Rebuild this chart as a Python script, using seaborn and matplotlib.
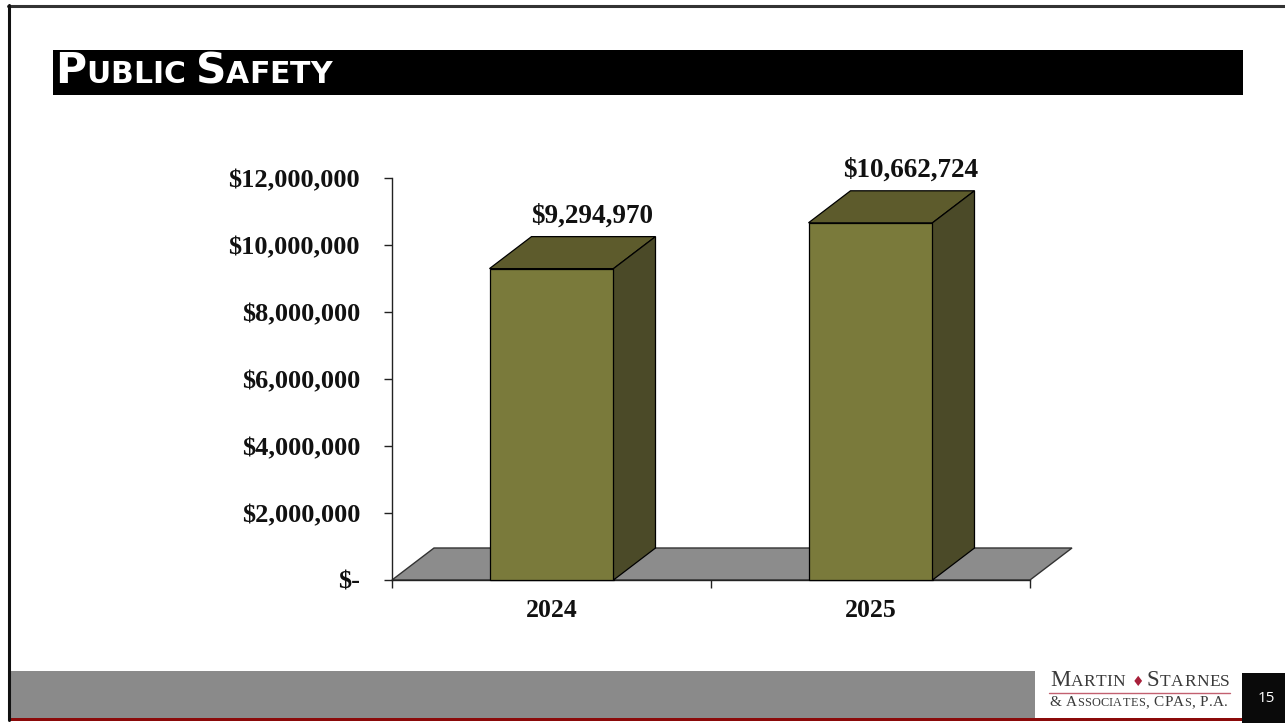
import matplotlib
matplotlib.use("Agg")
import matplotlib.pyplot as plt
from matplotlib.patches import Polygon, Rectangle
from matplotlib.lines import Line2D
import seaborn as sns
import pandas as pd

# ---- data ----
years = ["2024", "2025"]
spending = [9294970, 10662724]
value_labels = ["$9,294,970", "$10,662,724"]
y_ticks = [0, 2000000, 4000000, 6000000, 8000000, 10000000, 12000000]
y_tick_labels = ["$-", "$2,000,000", "$4,000,000", "$6,000,000",
                 "$8,000,000", "$10,000,000", "$12,000,000"]
title_parts = [("P", 30.5), ("UBLIC ", 21.5), ("S", 30.5), ("AFETY", 21.5)]
page_number = "15"

W, H = 1285, 723
sns.set_theme(style="white")
plt.rcParams["font.family"] = ["Liberation Serif", "DejaVu Serif"]

fig = plt.figure(figsize=(W / 100, H / 100), dpi=100)
fig.patch.set_facecolor("white")


def fx(px):
    return px / W


def fy(py):
    return 1 - py / H


# ---- slide frame, title bar and footer ----
fig.add_artist(Line2D([fx(8), 1], [fy(5.5), fy(5.5)], color="#333333", lw=2.2))
fig.add_artist(Line2D([fx(9), fx(9)], [fy(5), fy(720)], color="#111111", lw=2.2))
fig.add_artist(Rectangle((fx(53), fy(95)), fx(1243) - fx(53), fy(50) - fy(95),
                         transform=fig.transFigure, color="black", lw=0))
fig.add_artist(Rectangle((fx(10), fy(718)), fx(1035) - fx(10), fy(671) - fy(718),
                         transform=fig.transFigure, color="#8a8a8a", lw=0))
fig.add_artist(Rectangle((fx(10), fy(721)), fx(1242) - fx(10), fy(718) - fy(721),
                         transform=fig.transFigure, color="#8b0a0a", lw=0))
fig.add_artist(Rectangle((fx(1242), 0), 1 - fx(1242), fy(673),
                         transform=fig.transFigure, color="#0a0a0a", lw=0))
fig.text(fx(1266), fy(698), page_number, color="white", fontsize=11,
         family=["Open Sans", "DejaVu Sans"], ha="center", va="center")

renderer = fig.canvas.get_renderer()


def char_runs(parts):
    for s, size in parts:
        for ch in s:
            yield ch, size


def small_caps(parts, x_px, base_px, color, family, weight="normal",
               span=None):
    """Write a run of mixed-size text on one baseline; optionally spread
    the letters so the run covers `span` pixels."""
    pieces = []
    for ch, size in char_runs(parts):
        t = fig.text(0, 0, ch, fontsize=size, family=family, weight=weight)
        pieces.append((ch, size, t.get_window_extent(renderer=renderer).width))
        t.remove()
    natural = sum(p[2] for p in pieces)
    track = 0.0
    if span is not None and len(pieces) > 1:
        track = (span - natural) / (len(pieces) - 1)
    x = x_px
    for ch, size, w in pieces:
        fig.text(fx(x), fy(base_px), ch, fontsize=size, color=color,
                 family=family, weight=weight, ha="left", va="baseline")
        x += w + track
    return x


small_caps(title_parts, 55, 83, "white", ["DejaVu Sans"], weight="bold")

# firm logo
logo_red = "#a8203a"
logo_ink = "#3a3a3a"
serif = ["Liberation Serif", "DejaVu Serif"]
small_caps([("M", 16.5), ("ARTIN", 12.5)], 1050, 686.5, logo_ink, serif,
           span=75)
fig.text(fx(1137.5), fy(685.5), "\u2666", fontsize=10, color=logo_red,
         family=["DejaVu Sans"], ha="center", va="baseline")
small_caps([("S", 16.5), ("TARNES", 12.5)], 1147, 686.5, logo_ink, serif,
           span=83)
fig.add_artist(Line2D([fx(1049), fx(1230)], [fy(692.5), fy(692.5)],
                      color="#c26070", lw=1.0))
small_caps([("& A", 11), ("SSOCIATES", 8.8), (", C", 11), ("PA", 11),
            ("S", 8.8), (", P.A.", 11)], 1049, 706, logo_ink, serif,
           span=179)

# ---- chart ----
ax = fig.add_axes([fx(392), fy(580), fx(1030) - fx(392), fy(178) - fy(580)])
df = pd.DataFrame({"year": years, "amount": spending})

front = "#7a7a3b"
top_c = "#5d5b2c"
side_c = "#4b4a28"
bar_w = 124 / 319

sns.barplot(data=df, x="year", y="amount", color=front, width=bar_w,
            saturation=1, edgecolor="black", linewidth=0.9, ax=ax, zorder=3)

ax.set_xlim(-0.5, 1.5)
ax.set_ylim(0, 12000000)

# depth of the 3-D effect, in data units
dx = 42 / 319
dy = 32 / (402 / 12000000)

# floor
floor = Polygon([(-0.5, 0), (1.5, 0), (1.5 + dx, dy), (-0.5 + dx, dy)],
                closed=True, facecolor="#8c8c8c", edgecolor="#333333",
                lw=1.0, zorder=1, clip_on=False)
ax.add_patch(floor)

for patch, label in zip(ax.patches[:len(years)], value_labels):
    x0 = patch.get_x()
    w = patch.get_width()
    h = patch.get_height()
    x1 = x0 + w
    top = Polygon([(x0, h), (x1, h), (x1 + dx, h + dy), (x0 + dx, h + dy)],
                  closed=True, facecolor=top_c, edgecolor="black", lw=0.9,
                  zorder=3, clip_on=False)
    side = Polygon([(x1, 0), (x1 + dx, dy), (x1 + dx, h + dy), (x1, h)],
                   closed=True, facecolor=side_c, edgecolor="black", lw=0.9,
                   zorder=3, clip_on=False)
    ax.add_patch(top)
    ax.add_patch(side)
    patch.set_clip_on(False)
    ax.text(x0 + w / 2 + dx - 0.005, h + dy + 620000, label, ha="center",
            va="center", fontsize=19.5, weight="bold", color="#111111",
            clip_on=False)

# axes styling
for s in ["top", "right"]:
    ax.spines[s].set_visible(False)
for s in ["left", "bottom"]:
    ax.spines[s].set_color("#222222")
    ax.spines[s].set_linewidth(1.0)
    ax.spines[s].set_zorder(2)
ax.set_facecolor("none")
ax.set_xlabel("")
ax.set_ylabel("")
ax.set_yticks(y_ticks, labels=y_tick_labels)
ax.tick_params(axis="y", direction="out", length=6, width=1.0, color="#222222",
               pad=17, labelsize=19, left=True)
for t in ax.get_yticklabels():
    t.set_fontweight("bold")
    t.set_color("#111111")
ax.set_xticks([0, 1], labels=years)
ax.set_xticks([-0.5, 0.5, 1.5], minor=True)
ax.tick_params(axis="x", which="major", length=0, pad=14, labelsize=18.5)
ax.tick_params(axis="x", which="minor", direction="out", length=6, width=1.0,
               color="#222222", bottom=True)
for t in ax.get_xticklabels():
    t.set_fontweight("bold")
    t.set_color("#111111")
ax.grid(False)

fig.savefig("out.png", dpi=100, facecolor="white")
